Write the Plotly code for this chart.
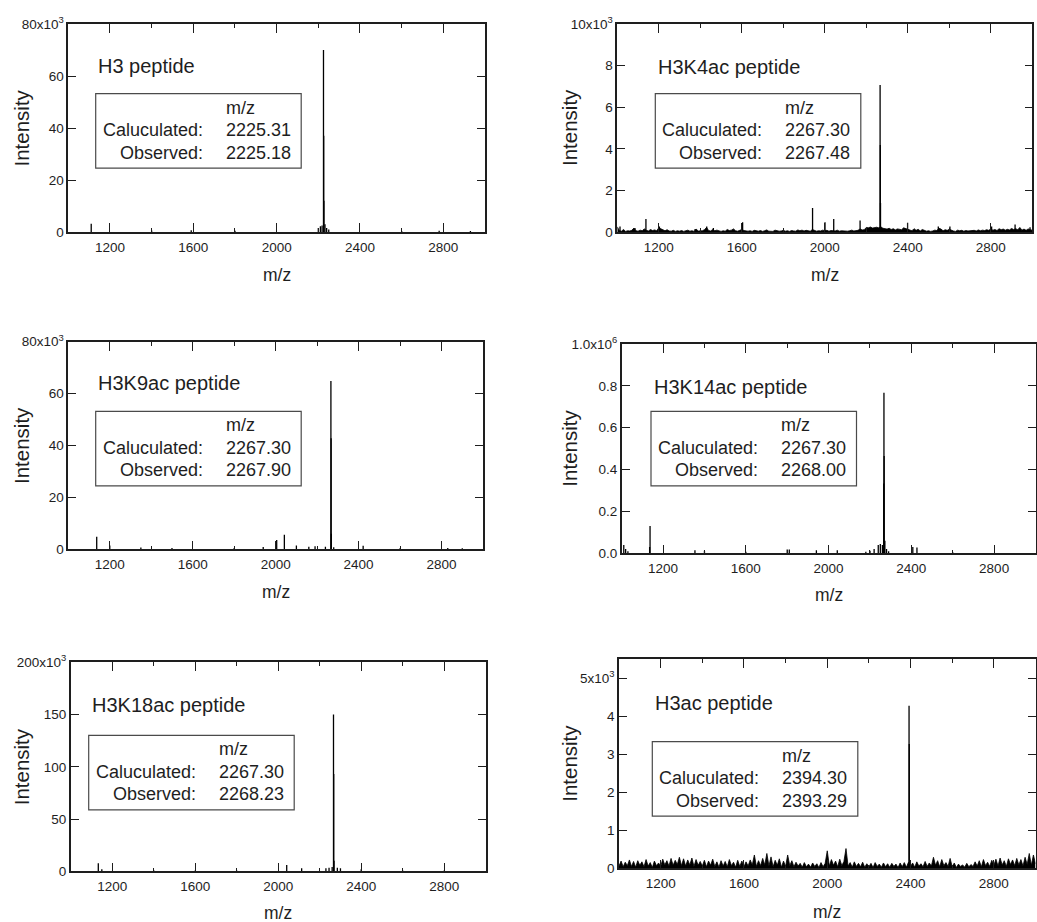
import plotly.graph_objects as go

W, H = 1037, 922
FONT = "Liberation Sans, Arial, Helvetica, sans-serif"
INK = "#1e1e1e"

# ---- m/z axis -------------------------------------------------------------
MZ_RANGE = [1000, 3000]
MZ_MAJOR = [1200, 1600, 2000, 2400, 2800]
MZ_MINOR = [1000, 1400, 1800, 2200, 2600, 3000]

# ---- panel labels ----------------------------------------------------------
names = ["H3 peptide", "H3K4ac peptide", "H3K9ac peptide",
         "H3K14ac peptide", "H3K18ac peptide", "H3ac peptide"]
calculated = ["2225.31", "2267.30", "2267.30", "2267.30", "2267.30", "2394.30"]
observed = ["2225.18", "2267.48", "2267.90", "2268.00", "2268.23", "2393.29"]

# ---- intensity axes ----------------------------------------------------------
y_max = [80000, 10000, 80000, 1.0e6, 200000, 5500]
y_tickvals = [
    [0, 20000, 40000, 60000, 80000],
    [0, 2000, 4000, 6000, 8000, 10000],
    [0, 20000, 40000, 60000, 80000],
    [0, 200000, 400000, 600000, 800000, 1000000],
    [0, 50000, 100000, 150000, 200000],
    [0, 1000, 2000, 3000, 4000, 5000],
]
y_ticktext = [
    ["0", "20", "40", "60", "80x10<sup>3</sup>"],
    ["0", "2", "4", "6", "8", "10x10<sup>3</sup>"],
    ["0", "20", "40", "60", "80x10<sup>3</sup>"],
    ["0.0", "0.2", "0.4", "0.6", "0.8", "1.0x10<sup>6</sup>"],
    ["0", "50", "100", "150", "200x10<sup>3</sup>"],
    ["0", "1", "2", "3", "4", "5x10<sup>3</sup>"],
]

# ---- spectra: centroid peaks (m/z, intensity) ---------------------------------
h3_mz = [1110, 1400, 1590, 1800, 2200, 2210, 2218, 2224.8, 2225.8, 2226.8,
         2232, 2240, 2250, 2600, 2780, 2930]
h3_int = [3200, 600, 700, 500, 1500, 2200, 2500, 70000, 37000, 12000,
          3000, 1500, 1000, 400, 500, 400]

h3k4ac_mz = [1013, 1085, 1138, 1203, 1375, 1431, 1463, 1604, 1941, 2001,
             2043, 2170, 2266.5, 2267.5, 2268.5, 2399, 2547, 2603, 2804,
             2917, 2989]
h3k4ac_int = [270, 190, 630, 270, 145, 270, 190, 470, 1150, 470,
              630, 550, 7070, 4180, 1400, 440, 270, 270, 270,
              360, 230]

h3k9ac_mz = [1137, 1200, 1350, 1500, 1800, 1940, 2005, 2042, 2100, 2160,
             2190, 2240, 2266.5, 2267.5, 2268.5, 2280, 2422, 2600, 2830, 2900]
h3k9ac_int = [4800, 1500, 700, 500, 500, 900, 3600, 5600, 1500, 1000,
              1200, 1000, 64900, 42800, 6000, 800, 1400, 400, 500, 400]

h3k14ac_mz = [1010, 1019, 1030, 1135, 1137, 1354, 1400, 1600, 1800, 1810,
              1941, 2042, 2180, 2200, 2220, 2240, 2250, 2260, 2266.5,
              2267.5, 2268.5, 2272, 2280, 2290, 2407, 2427, 2600]
h3k14ac_int = [40000, 20000, 10000, 30000, 130000, 15000, 12000, 8000, 18000, 18000,
               15000, 15000, 8000, 12000, 20000, 40000, 45000, 40000, 334000,
               767000, 465000, 60000, 20000, 10000, 30000, 28000, 5000]

h3k18ac_mz = [1133, 1150, 1400, 1600, 1800, 2041, 2113, 2230, 2245, 2260,
              2266.5, 2267.5, 2269, 2285, 2300, 2400, 2600, 2800]
h3k18ac_int = [7700, 2000, 1000, 800, 700, 6000, 2900, 3000, 3500, 4000,
               150000, 93000, 10000, 3500, 3000, 2000, 800, 700]

h3ac_mz = [2392.8, 2393.8]
h3ac_int = [4280, 3270]

# ---- baseline noise, sampled every 10 m/z from 1000 to 3000 -----------------
NOISE_START, NOISE_STEP = 1000, 10
h3k4ac_noise = [
    250, 60, 40, 120, 30, 60, 50, 80, 190, 60,
    40, 90, 60, 150, 80, 50, 120, 70, 100, 60,
    200, 150, 90, 60, 110, 50, 40, 80, 30, 60,
    40, 70, 30, 50, 90, 40, 60, 30, 140, 50,
    40, 60, 110, 220, 70, 50, 120, 60, 90, 50,
    30, 60, 40, 120, 70, 90, 150, 60, 40, 80,
    120, 70, 50, 40, 60, 30, 80, 50, 40, 70,
    30, 60, 100, 40, 50, 30, 90, 60, 40, 50,
    80, 40, 60, 30, 70, 50, 40, 100, 60, 90,
    50, 80, 60, 40, 120, 70, 40, 60, 50, 90,
    60, 80, 40, 70, 60, 50, 90, 40, 60, 50,
    70, 40, 60, 90, 50, 60, 80, 150, 100, 110,
    220, 200, 240, 190, 210, 230, 200, 250, 180, 160,
    140, 180, 120, 160, 100, 150, 120, 110, 200, 170,
    140, 90, 60, 160, 80, 130, 50, 120, 70, 40,
    60, 30, 50, 90, 70, 180, 140, 60, 110, 80,
    130, 70, 50, 30, 90, 60, 80, 40, 70, 50,
    60, 40, 80, 50, 100, 60, 90, 70, 110, 80,
    150, 90, 120, 70, 160, 110, 140, 90, 130, 100,
    170, 120, 160, 110, 220, 90, 140, 80, 150, 110,
    90,
]
h3ac_noise = [
    60, 190, 40, 160, 70, 220, 50, 180, 30, 200,
    80, 170, 40, 230, 60, 150, 20, 190, 70, 140,
    50, 240, 90, 200, 60, 260, 80, 210, 100, 290,
    70, 250, 60, 220, 90, 270, 50, 230, 80, 180,
    60, 210, 40, 190, 80, 240, 50, 170, 30, 200,
    60, 180, 40, 230, 70, 160, 30, 210, 50, 190,
    40, 170, 60, 220, 90, 350, 50, 200, 70, 260,
    90, 390, 60, 300, 40, 210, 80, 250, 30, 190,
    50, 350, 70, 200, 40, 160, 60, 130, 30, 150,
    40, 110, 30, 140, 50, 120, 20, 150, 40, 130,
    460, 60, 230, 80, 190, 40, 240, 70, 180, 520,
    60, 150, 30, 170, 50, 130, 40, 160, 30, 120,
    40, 130, 20, 150, 50, 110, 30, 140, 40, 120,
    30, 130, 50, 110, 20, 140, 40, 150, 30, 160,
    50, 140, 30, 170, 60, 120, 40, 180, 50, 140,
    60, 290, 80, 200, 40, 230, 70, 150, 50, 260,
    40, 140, 20, 110, 50, 90, 30, 130, 40, 100,
    50, 170, 60, 200, 40, 230, 70, 160, 50, 210,
    80, 240, 60, 270, 90, 200, 50, 250, 100, 220,
    70, 260, 90, 230, 60, 290, 100, 390, 80, 350,
    120,
]

peaks = [(h3_mz, h3_int), (h3k4ac_mz, h3k4ac_int), (h3k9ac_mz, h3k9ac_int),
         (h3k14ac_mz, h3k14ac_int), (h3k18ac_mz, h3k18ac_int), (h3ac_mz, h3ac_int)]
noise = [None, h3k4ac_noise, None, None, None, h3ac_noise]

# ---- panel geometry in pixels: plot rect (l, t, r, b), title, legend box ------
panels = [
    dict(rect=(68.3, 24, 485, 232), title=(96, 65.7), box=(95.7, 93.7), ylab=21.5, xlab=43),
    dict(rect=(617.3, 24, 1032.3, 232), title=(656, 66.7), box=(655.3, 93.7), ylab=570, xlab=43),
    dict(rect=(68.3, 341.7, 483, 549.3), title=(96, 383.3), box=(95.7, 411.3), ylab=21.5, xlab=43),
    dict(rect=(621.7, 344, 1035.5, 553.3), title=(651.7, 387.3), box=(651, 411.3), ylab=570, xlab=42),
    dict(rect=(70.7, 662.3, 485.7, 871.3), title=(90, 705.3), box=(88.7, 735.3), ylab=21.5, xlab=42),
    dict(rect=(619, 659.3, 1035.5, 868.3), title=(653.3, 703.3), box=(652.3, 741.7), ylab=570, xlab=44),
]
BOX_W, BOX_H = 205.5, 74.5


def px(x):
    return x / W


def py(y):
    return 1 - y / H


def sticks(mz, inten):
    xs, ys = [], []
    for m, v in zip(mz, inten):
        xs += [m, m, None]
        ys += [0, v, None]
    return xs, ys


fig = go.Figure()
annotations = []
shapes = []
layout = {}

for i, p in enumerate(panels):
    n = i + 1
    xa = "x" if n == 1 else f"x{n}"
    ya = "y" if n == 1 else f"y{n}"
    l, t, r, b = p["rect"]

    if noise[i] is not None:
        nx = [NOISE_START + k * NOISE_STEP for k in range(len(noise[i]))]
        fig.add_trace(go.Scatter(
            x=nx, y=noise[i], mode="lines", xaxis=xa, yaxis=ya,
            line=dict(color="black", width=0.8), fill="tozeroy",
            fillcolor="black", hoverinfo="skip", showlegend=False))

    sx, sy = sticks(*peaks[i])
    fig.add_trace(go.Scatter(
        x=sx, y=sy, mode="lines", xaxis=xa, yaxis=ya,
        line=dict(color="black", width=1.3), connectgaps=False,
        hoverinfo="skip", showlegend=False))

    axis_common = dict(
        showline=True, linecolor=INK, linewidth=1.6, mirror="allticks",
        ticks="inside", tickcolor=INK, tickwidth=1.3,
        showgrid=False, zeroline=False, automargin=False,
        tickfont=dict(family=FONT, size=13.5, color=INK),
    )
    layout["xaxis" if n == 1 else f"xaxis{n}"] = dict(
        axis_common, domain=[px(l), px(r)], range=MZ_RANGE,
        anchor=ya, tickmode="array", tickvals=MZ_MAJOR, ticklen=9,
        ticklabelstandoff=2,
        minor=dict(tickmode="array", tickvals=MZ_MINOR, ticks="inside",
                   ticklen=4, tickwidth=1.2, tickcolor=INK),
    )
    layout["yaxis" if n == 1 else f"yaxis{n}"] = dict(
        axis_common, domain=[py(b), py(t)], range=[0, y_max[i]],
        anchor=xa, tickmode="array", tickvals=y_tickvals[i],
        ticktext=y_ticktext[i], ticklen=8,
    )

    # axis titles
    annotations.append(dict(
        text="Intensity", x=px(p["ylab"]), y=py((t + b) / 2),
        xref="paper", yref="paper", textangle=-90, showarrow=False,
        xanchor="center", yanchor="middle",
        font=dict(family=FONT, size=20.5, color=INK)))
    annotations.append(dict(
        text="m/z", x=px((l + r) / 2), y=py(b + p["xlab"]),
        xref="paper", yref="paper", showarrow=False,
        xanchor="center", yanchor="middle",
        font=dict(family=FONT, size=17.5, color=INK)))

    # peptide name
    tx, ty = p["title"]
    annotations.append(dict(
        text=names[i], x=px(tx), y=py(ty), xref="paper", yref="paper",
        showarrow=False, xanchor="left", yanchor="middle",
        font=dict(family=FONT, size=20, color=INK)))

    # mass box
    bx, by = p["box"]
    shapes.append(dict(
        type="rect", xref="paper", yref="paper",
        x0=px(bx), x1=px(bx + BOX_W), y0=py(by + BOX_H), y1=py(by),
        line=dict(color="#4a4a4a", width=1.2), fillcolor="rgba(0,0,0,0)"))
    box_font = dict(family=FONT, size=18, color=INK)
    annotations.append(dict(
        text="m/z", x=px(bx + 128), y=py(by + 14), xref="paper", yref="paper",
        showarrow=False, xanchor="left", yanchor="middle", font=box_font))
    for row, (lab, val) in enumerate([("Caluculated:", calculated[i]),
                                      ("Observed:", observed[i])]):
        yy = py(by + 36.7 + row * 22.3)
        annotations.append(dict(
            text=lab, x=px(bx + 109), y=yy, xref="paper", yref="paper",
            showarrow=False, xanchor="right", yanchor="middle", font=box_font))
        annotations.append(dict(
            text=val, x=px(bx + 128), y=yy, xref="paper", yref="paper",
            showarrow=False, xanchor="left", yanchor="middle", font=box_font))

fig.update_layout(
    width=W, height=H,
    margin=dict(l=0, r=0, t=0, b=0, pad=0, autoexpand=False),
    paper_bgcolor="white", plot_bgcolor="white",
    font=dict(family=FONT, color=INK),
    showlegend=False, annotations=annotations, shapes=shapes,
    **layout,
)

fig.write_html("out.html")
